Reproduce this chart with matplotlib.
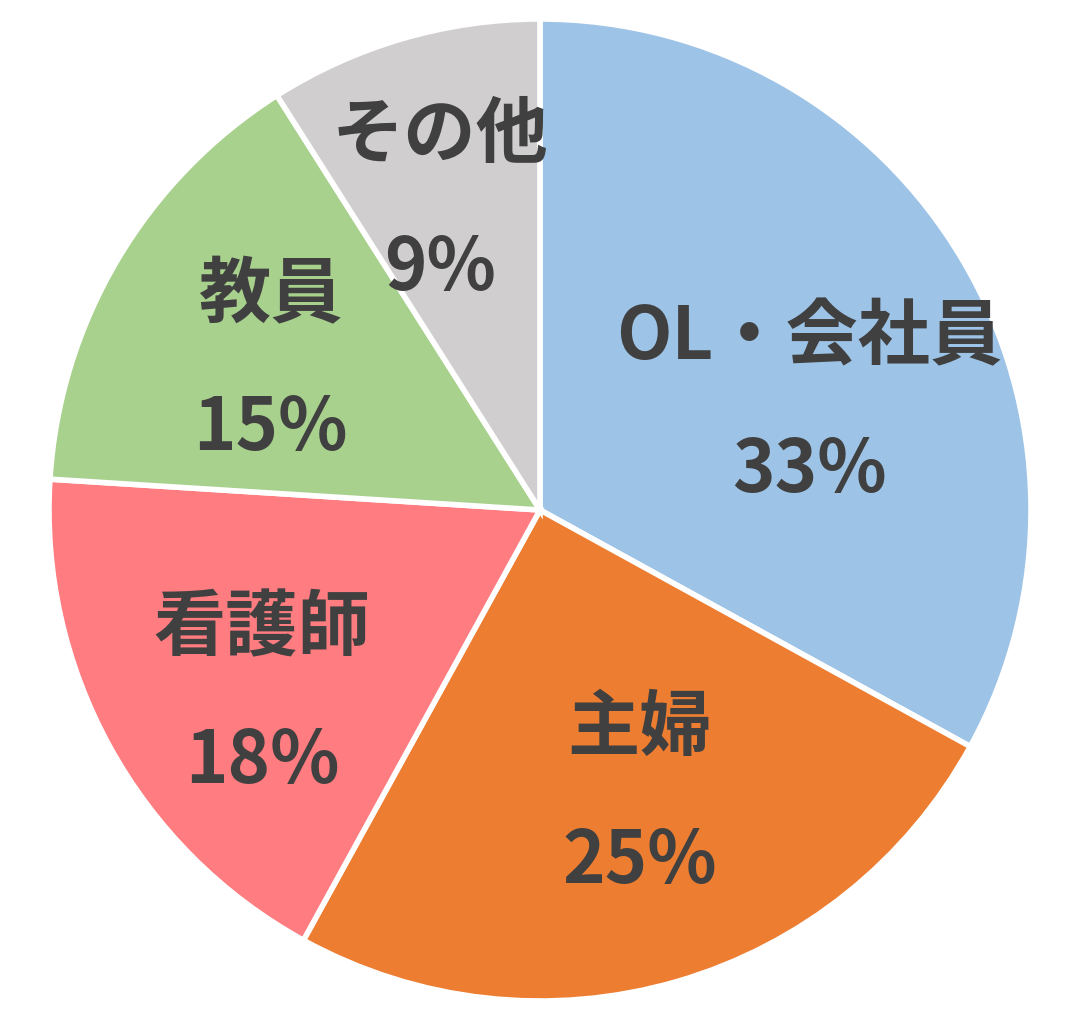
import numpy as np
import matplotlib.pyplot as plt

plt.rcParams['font.family'] = ['Noto Sans CJK JP', 'DejaVu Sans']

labels = ['OL・会社員', '主婦', '看護師', '教員', 'その他']
shares = [33, 25, 18, 15, 9]
colors = ['#9DC3E6', '#ED7D31', '#FF7C80', '#A9D18E', '#D0CECE']

# label placement: distance from centre (radius units) and angle tweak (deg)
label_dist = [0.59, 0.615, 0.68, 0.627, 0.66]
label_turn = [-9.2, 3.1, 4.9, 1.9, 1.8]

fig = plt.figure(figsize=(10.82, 10.34), dpi=100)
# pie centre ~ (540, 510) px, radius ~ 491 px
r_px = 491
ax = fig.add_axes([(540 - r_px) / 1082, (1034 - 510 - r_px) / 1034,
                   2 * r_px / 1082, 2 * r_px / 1034])
wedges, _ = ax.pie(shares, colors=colors, startangle=90, counterclock=False,
                   radius=1.0,
                   wedgeprops=dict(edgecolor='white', linewidth=4))
ax.set_xlim(-1, 1)
ax.set_ylim(-1, 1)
ax.set_aspect('auto')
ax.axis('off')

for w, lab, v, d, t in zip(wedges, labels, shares, label_dist, label_turn):
    ang = np.deg2rad((w.theta1 + w.theta2) / 2 + t)
    x, y = d * np.cos(ang), d * np.sin(ang)
    ax.text(x, y, f'{lab}\n{v}%', ha='center', va='center',
            fontsize=52, fontweight='bold', color='#404040',
            linespacing=2.0)

fig.savefig('out.png', dpi=100)
